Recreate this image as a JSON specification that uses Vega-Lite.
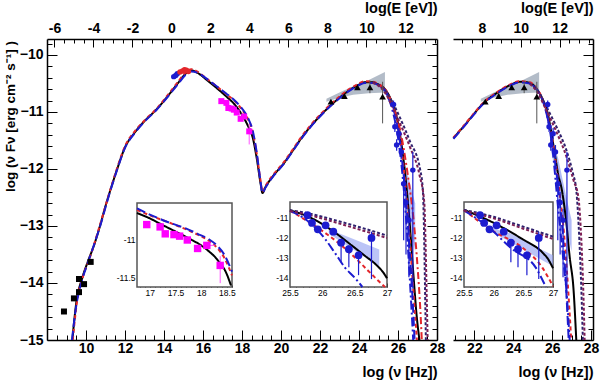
{
"$schema": "https://vega.github.io/schema/vega-lite/v6.json",
"width": 546, "height": 301,
"autosize": "none",
"padding": {"left": 47, "top": 39, "right": 7, "bottom": 40},
"background": "white",
"config": {"view": {"stroke": null}, "font": "Liberation Sans",
 "axis": {"grid": false, "domainColor": "#000", "domainWidth": 1.5, "tickColor": "#000", "tickWidth": 1, "labelColor": "#000", "labelFont": "Liberation Sans", "labelFontSize": 14, "labelFontWeight": "bold", "labelFlush": false, "labelOverlap": false, "labelBound": false, "titleColor": "#000", "titleFont": "Liberation Sans", "titleFontSize": 14.5, "titleFontWeight": "bold", "titlePadding": 0}},
"datasets": {
"curves": [
{"p":"L","s":"k","x":9.3,"y":-15},{"p":"L","s":"k","x":9.5,"y":-14.35},{"p":"L","s":"k","x":9.8,"y":-13.92},{"p":"L","s":"k","x":10.1,"y":-13.62},{"p":"L","s":"k","x":10.4,"y":-13.35},{"p":"L","s":"k","x":10.7,"y":-13.02},{"p":"L","s":"k","x":11,"y":-12.65},{"p":"L","s":"k","x":11.25,"y":-12.37},{"p":"L","s":"k","x":11.6,"y":-12},{"p":"L","s":"k","x":12,"y":-11.62},{"p":"L","s":"k","x":12.5,"y":-11.36},{"p":"L","s":"k","x":13,"y":-11.16},{"p":"L","s":"k","x":13.6,"y":-10.96},{"p":"L","s":"k","x":14.2,"y":-10.72},{"p":"L","s":"k","x":14.7,"y":-10.5},{"p":"L","s":"k","x":15.1,"y":-10.33},{"p":"L","s":"k","x":15.4,"y":-10.27},{"p":"L","s":"k","x":15.7,"y":-10.31},{"p":"L","s":"k","x":16.2,"y":-10.44},{"p":"L","s":"k","x":16.7,"y":-10.58},{"p":"L","s":"k","x":17.2,"y":-10.73},{"p":"L","s":"k","x":17.6,"y":-10.86},{"p":"L","s":"k","x":18,"y":-11.05},{"p":"L","s":"k","x":18.3,"y":-11.24},{"p":"L","s":"k","x":18.55,"y":-11.45},{"p":"L","s":"k","x":18.75,"y":-11.8},{"p":"L","s":"k","x":18.95,"y":-12.25},{"p":"L","s":"k","x":19.05,"y":-12.42},{"p":"L","s":"k","x":19.2,"y":-12.32},{"p":"L","s":"k","x":19.6,"y":-12.12},{"p":"L","s":"k","x":20.1,"y":-11.92},{"p":"L","s":"k","x":20.6,"y":-11.68},{"p":"L","s":"k","x":21,"y":-11.48},{"p":"L","s":"k","x":21.5,"y":-11.26},{"p":"L","s":"k","x":22,"y":-11.07},{"p":"L","s":"k","x":22.5,"y":-10.9},{"p":"L","s":"k","x":23,"y":-10.75},{"p":"L","s":"k","x":23.5,"y":-10.62},{"p":"L","s":"k","x":24,"y":-10.52},{"p":"L","s":"k","x":24.3,"y":-10.48},{"p":"L","s":"k","x":24.7,"y":-10.48},{"p":"L","s":"k","x":25,"y":-10.52},{"p":"L","s":"k","x":25.4,"y":-10.63},{"p":"L","s":"k","x":25.7,"y":-10.84},{"p":"L","s":"k","x":26,"y":-11.2},{"p":"L","s":"k","x":26.2,"y":-11.62},{"p":"L","s":"k","x":26.4,"y":-12.2},{"p":"L","s":"k","x":26.6,"y":-12.95},{"p":"L","s":"k","x":26.8,"y":-13.9},{"p":"L","s":"k","x":26.95,"y":-14.55},{"p":"L","s":"k","x":27.1,"y":-15},
{"p":"L","s":"r","x":9.32,"y":-15},{"p":"L","s":"r","x":9.55,"y":-14.3},{"p":"L","s":"r","x":9.85,"y":-13.88},{"p":"L","s":"r","x":10.2,"y":-13.55},{"p":"L","s":"r","x":10.7,"y":-13},{"p":"L","s":"r","x":11.25,"y":-12.36},{"p":"L","s":"r","x":11.6,"y":-11.98},{"p":"L","s":"r","x":12,"y":-11.6},{"p":"L","s":"r","x":12.5,"y":-11.34},{"p":"L","s":"r","x":13,"y":-11.15},{"p":"L","s":"r","x":13.6,"y":-10.95},{"p":"L","s":"r","x":14.2,"y":-10.7},{"p":"L","s":"r","x":14.7,"y":-10.48},{"p":"L","s":"r","x":15.1,"y":-10.31},{"p":"L","s":"r","x":15.4,"y":-10.25},{"p":"L","s":"r","x":15.7,"y":-10.29},{"p":"L","s":"r","x":16.2,"y":-10.42},{"p":"L","s":"r","x":16.7,"y":-10.55},{"p":"L","s":"r","x":17.2,"y":-10.69},{"p":"L","s":"r","x":17.6,"y":-10.8},{"p":"L","s":"r","x":18,"y":-10.96},{"p":"L","s":"r","x":18.3,"y":-11.12},{"p":"L","s":"r","x":18.55,"y":-11.35},{"p":"L","s":"r","x":18.75,"y":-11.72},{"p":"L","s":"r","x":18.95,"y":-12.2},{"p":"L","s":"r","x":19.05,"y":-12.4},{"p":"L","s":"r","x":19.2,"y":-12.3},{"p":"L","s":"r","x":19.6,"y":-12.1},{"p":"L","s":"r","x":20.1,"y":-11.9},{"p":"L","s":"r","x":20.6,"y":-11.66},{"p":"L","s":"r","x":21,"y":-11.46},{"p":"L","s":"r","x":21.5,"y":-11.24},{"p":"L","s":"r","x":22,"y":-11.05},{"p":"L","s":"r","x":22.5,"y":-10.88},{"p":"L","s":"r","x":23,"y":-10.73},{"p":"L","s":"r","x":23.5,"y":-10.6},{"p":"L","s":"r","x":24,"y":-10.5},{"p":"L","s":"r","x":24.3,"y":-10.46},{"p":"L","s":"r","x":24.7,"y":-10.47},{"p":"L","s":"r","x":25,"y":-10.51},{"p":"L","s":"r","x":25.4,"y":-10.63},{"p":"L","s":"r","x":25.7,"y":-10.86},{"p":"L","s":"r","x":26,"y":-11.25},{"p":"L","s":"r","x":26.2,"y":-11.7},{"p":"L","s":"r","x":26.4,"y":-12.35},{"p":"L","s":"r","x":26.6,"y":-13.2},{"p":"L","s":"r","x":26.8,"y":-14.2},{"p":"L","s":"r","x":26.97,"y":-15},
{"p":"L","s":"b","x":9.28,"y":-15},{"p":"L","s":"b","x":9.5,"y":-14.4},{"p":"L","s":"b","x":9.8,"y":-13.95},{"p":"L","s":"b","x":10.1,"y":-13.64},{"p":"L","s":"b","x":10.7,"y":-13.03},{"p":"L","s":"b","x":11.25,"y":-12.38},{"p":"L","s":"b","x":11.6,"y":-12.01},{"p":"L","s":"b","x":12,"y":-11.63},{"p":"L","s":"b","x":12.5,"y":-11.37},{"p":"L","s":"b","x":13,"y":-11.17},{"p":"L","s":"b","x":13.6,"y":-10.97},{"p":"L","s":"b","x":14.2,"y":-10.73},{"p":"L","s":"b","x":14.7,"y":-10.52},{"p":"L","s":"b","x":15.1,"y":-10.35},{"p":"L","s":"b","x":15.4,"y":-10.29},{"p":"L","s":"b","x":15.7,"y":-10.31},{"p":"L","s":"b","x":16.2,"y":-10.42},{"p":"L","s":"b","x":16.7,"y":-10.55},{"p":"L","s":"b","x":17.2,"y":-10.68},{"p":"L","s":"b","x":17.6,"y":-10.79},{"p":"L","s":"b","x":18,"y":-10.94},{"p":"L","s":"b","x":18.3,"y":-11.1},{"p":"L","s":"b","x":18.55,"y":-11.33},{"p":"L","s":"b","x":18.75,"y":-11.7},{"p":"L","s":"b","x":18.95,"y":-12.22},{"p":"L","s":"b","x":19.05,"y":-12.42},{"p":"L","s":"b","x":19.2,"y":-12.33},{"p":"L","s":"b","x":19.6,"y":-12.13},{"p":"L","s":"b","x":20.1,"y":-11.93},{"p":"L","s":"b","x":20.6,"y":-11.69},{"p":"L","s":"b","x":21,"y":-11.49},{"p":"L","s":"b","x":21.5,"y":-11.27},{"p":"L","s":"b","x":22,"y":-11.08},{"p":"L","s":"b","x":22.5,"y":-10.91},{"p":"L","s":"b","x":23,"y":-10.76},{"p":"L","s":"b","x":23.5,"y":-10.63},{"p":"L","s":"b","x":24,"y":-10.53},{"p":"L","s":"b","x":24.3,"y":-10.49},{"p":"L","s":"b","x":24.7,"y":-10.49},{"p":"L","s":"b","x":25,"y":-10.53},{"p":"L","s":"b","x":25.4,"y":-10.65},{"p":"L","s":"b","x":25.7,"y":-10.88},{"p":"L","s":"b","x":26,"y":-11.3},{"p":"L","s":"b","x":26.2,"y":-11.8},{"p":"L","s":"b","x":26.4,"y":-12.5},{"p":"L","s":"b","x":26.6,"y":-13.45},{"p":"L","s":"b","x":26.75,"y":-14.3},{"p":"L","s":"b","x":26.85,"y":-15},
{"p":"L","s":"bd","x":25,"y":-10.53},{"p":"L","s":"bd","x":25.3,"y":-10.62},{"p":"L","s":"bd","x":25.7,"y":-10.95},{"p":"L","s":"bd","x":26,"y":-11.45},{"p":"L","s":"bd","x":26.2,"y":-12},{"p":"L","s":"bd","x":26.4,"y":-12.8},{"p":"L","s":"bd","x":26.55,"y":-13.6},{"p":"L","s":"bd","x":26.7,"y":-14.5},{"p":"L","s":"bd","x":26.78,"y":-15},
{"p":"L","s":"rd","x":25,"y":-10.52},{"p":"L","s":"rd","x":25.3,"y":-10.6},{"p":"L","s":"rd","x":25.7,"y":-10.85},{"p":"L","s":"rd","x":26.1,"y":-11.3},{"p":"L","s":"rd","x":26.5,"y":-12.1},{"p":"L","s":"rd","x":26.8,"y":-12.9},{"p":"L","s":"rd","x":27,"y":-13.7},{"p":"L","s":"rd","x":27.15,"y":-14.5},{"p":"L","s":"rd","x":27.22,"y":-15},
{"p":"L","s":"p1","x":24.7,"y":-10.48},{"p":"L","s":"p1","x":25,"y":-10.52},{"p":"L","s":"p1","x":25.33,"y":-10.62},{"p":"L","s":"p1","x":25.7,"y":-10.82},{"p":"L","s":"p1","x":26.1,"y":-11.1},{"p":"L","s":"p1","x":26.62,"y":-11.52},{"p":"L","s":"p1","x":27.13,"y":-12},{"p":"L","s":"p1","x":27.28,"y":-12.4},{"p":"L","s":"p1","x":27.33,"y":-13},{"p":"L","s":"p1","x":27.38,"y":-13.95},{"p":"L","s":"p1","x":27.43,"y":-15},
{"p":"L","s":"p2","x":24.7,"y":-10.49},{"p":"L","s":"p2","x":25,"y":-10.54},{"p":"L","s":"p2","x":25.33,"y":-10.66},{"p":"L","s":"p2","x":25.7,"y":-10.9},{"p":"L","s":"p2","x":26.1,"y":-11.2},{"p":"L","s":"p2","x":26.62,"y":-11.62},{"p":"L","s":"p2","x":27.1,"y":-12.1},{"p":"L","s":"p2","x":27.35,"y":-12.6},{"p":"L","s":"p2","x":27.42,"y":-13.4},{"p":"L","s":"p2","x":27.47,"y":-14.2},{"p":"L","s":"p2","x":27.52,"y":-15},
{"p":"R","s":"k","x":20.92,"y":-11.46},{"p":"R","s":"k","x":21.43,"y":-11.26},{"p":"R","s":"k","x":21.94,"y":-11.05},{"p":"R","s":"k","x":22.45,"y":-10.85},{"p":"R","s":"k","x":23.14,"y":-10.67},{"p":"R","s":"k","x":23.82,"y":-10.53},{"p":"R","s":"k","x":24.34,"y":-10.47},{"p":"R","s":"k","x":24.85,"y":-10.49},{"p":"R","s":"k","x":25.19,"y":-10.59},{"p":"R","s":"k","x":25.53,"y":-10.79},{"p":"R","s":"k","x":25.79,"y":-11.05},{"p":"R","s":"k","x":25.96,"y":-11.37},{"p":"R","s":"k","x":26.13,"y":-11.72},{"p":"R","s":"k","x":26.3,"y":-12.08},{"p":"R","s":"k","x":26.5,"y":-12.37},{"p":"R","s":"k","x":26.73,"y":-12.95},{"p":"R","s":"k","x":26.9,"y":-13.54},{"p":"R","s":"k","x":27.1,"y":-14.12},{"p":"R","s":"k","x":27.24,"y":-15},
{"p":"R","s":"r","x":20.92,"y":-11.45},{"p":"R","s":"r","x":21.43,"y":-11.25},{"p":"R","s":"r","x":21.94,"y":-11.04},{"p":"R","s":"r","x":22.45,"y":-10.84},{"p":"R","s":"r","x":23.14,"y":-10.66},{"p":"R","s":"r","x":23.82,"y":-10.52},{"p":"R","s":"r","x":24.34,"y":-10.46},{"p":"R","s":"r","x":24.85,"y":-10.48},{"p":"R","s":"r","x":25.19,"y":-10.58},{"p":"R","s":"r","x":25.53,"y":-10.8},{"p":"R","s":"r","x":25.96,"y":-11.4},{"p":"R","s":"r","x":26.3,"y":-12.2},{"p":"R","s":"r","x":26.6,"y":-13.1},{"p":"R","s":"r","x":26.8,"y":-14},{"p":"R","s":"r","x":26.98,"y":-15},
{"p":"R","s":"b","x":20.92,"y":-11.47},{"p":"R","s":"b","x":21.43,"y":-11.27},{"p":"R","s":"b","x":21.94,"y":-11.06},{"p":"R","s":"b","x":22.45,"y":-10.86},{"p":"R","s":"b","x":23.14,"y":-10.68},{"p":"R","s":"b","x":23.82,"y":-10.54},{"p":"R","s":"b","x":24.34,"y":-10.48},{"p":"R","s":"b","x":24.85,"y":-10.5},{"p":"R","s":"b","x":25.19,"y":-10.6},{"p":"R","s":"b","x":25.53,"y":-10.82},{"p":"R","s":"b","x":25.96,"y":-11.45},{"p":"R","s":"b","x":26.3,"y":-12.3},{"p":"R","s":"b","x":26.6,"y":-13.4},{"p":"R","s":"b","x":26.85,"y":-15},
{"p":"R","s":"bd","x":25,"y":-10.53},{"p":"R","s":"bd","x":25.3,"y":-10.65},{"p":"R","s":"bd","x":25.7,"y":-11},{"p":"R","s":"bd","x":26,"y":-11.6},{"p":"R","s":"bd","x":26.3,"y":-12.66},{"p":"R","s":"bd","x":26.56,"y":-13.54},{"p":"R","s":"bd","x":26.73,"y":-14.12},{"p":"R","s":"bd","x":26.9,"y":-15},
{"p":"R","s":"p1","x":24.85,"y":-10.5},{"p":"R","s":"p1","x":25.19,"y":-10.6},{"p":"R","s":"p1","x":25.7,"y":-10.91},{"p":"R","s":"p1","x":26.22,"y":-11.26},{"p":"R","s":"p1","x":26.73,"y":-11.67},{"p":"R","s":"p1","x":27.07,"y":-12.08},{"p":"R","s":"p1","x":27.24,"y":-12.37},{"p":"R","s":"p1","x":27.4,"y":-13.25},{"p":"R","s":"p1","x":27.5,"y":-14.1},{"p":"R","s":"p1","x":27.58,"y":-15},
{"p":"R","s":"p2","x":24.85,"y":-10.51},{"p":"R","s":"p2","x":25.19,"y":-10.63},{"p":"R","s":"p2","x":25.7,"y":-10.97},{"p":"R","s":"p2","x":26.22,"y":-11.35},{"p":"R","s":"p2","x":26.73,"y":-11.78},{"p":"R","s":"p2","x":27.1,"y":-12.2},{"p":"R","s":"p2","x":27.35,"y":-12.5},{"p":"R","s":"p2","x":27.5,"y":-13.25},{"p":"R","s":"p2","x":27.6,"y":-14.12},{"p":"R","s":"p2","x":27.67,"y":-15},
{"p":"I1","s":"k","x":16.75,"y":-10.66},{"p":"I1","s":"k","x":17,"y":-10.73},{"p":"I1","s":"k","x":17.26,"y":-10.82},{"p":"I1","s":"k","x":17.5,"y":-10.9},{"p":"I1","s":"k","x":17.79,"y":-11},{"p":"I1","s":"k","x":18,"y":-11.08},{"p":"I1","s":"k","x":18.12,"y":-11.14},{"p":"I1","s":"k","x":18.32,"y":-11.27},{"p":"I1","s":"k","x":18.49,"y":-11.44},{"p":"I1","s":"k","x":18.58,"y":-11.6},
{"p":"I1","s":"r","x":16.75,"y":-10.62},{"p":"I1","s":"r","x":17,"y":-10.69},{"p":"I1","s":"r","x":17.4,"y":-10.79},{"p":"I1","s":"r","x":17.7,"y":-10.87},{"p":"I1","s":"r","x":17.93,"y":-10.94},{"p":"I1","s":"r","x":18.15,"y":-11.02},{"p":"I1","s":"r","x":18.32,"y":-11.12},{"p":"I1","s":"r","x":18.45,"y":-11.24},{"p":"I1","s":"r","x":18.6,"y":-11.47},
{"p":"I1","s":"b","x":16.75,"y":-10.6},{"p":"I1","s":"b","x":17,"y":-10.68},{"p":"I1","s":"b","x":17.4,"y":-10.79},{"p":"I1","s":"b","x":17.7,"y":-10.86},{"p":"I1","s":"b","x":17.93,"y":-10.93},{"p":"I1","s":"b","x":18.15,"y":-11},{"p":"I1","s":"b","x":18.32,"y":-11.09},{"p":"I1","s":"b","x":18.45,"y":-11.2},{"p":"I1","s":"b","x":18.6,"y":-11.42},
{"p":"I2","s":"k","x":25.5,"y":-10.62},{"p":"I2","s":"k","x":25.79,"y":-10.95},{"p":"I2","s":"k","x":26.15,"y":-11.64},{"p":"I2","s":"k","x":26.46,"y":-12.41},{"p":"I2","s":"k","x":26.65,"y":-12.9},{"p":"I2","s":"k","x":26.84,"y":-13.4},{"p":"I2","s":"k","x":26.95,"y":-13.8},{"p":"I2","s":"k","x":27,"y":-14.06},
{"p":"I2","s":"r","x":25.5,"y":-10.64},{"p":"I2","s":"r","x":25.95,"y":-11.55},{"p":"I2","s":"r","x":26.3,"y":-12.41},{"p":"I2","s":"r","x":26.5,"y":-13},{"p":"I2","s":"r","x":26.7,"y":-13.65},{"p":"I2","s":"r","x":26.87,"y":-14.2},{"p":"I2","s":"r","x":26.97,"y":-14.5},
{"p":"I2","s":"bd","x":25.5,"y":-10.65},{"p":"I2","s":"bd","x":25.75,"y":-11.1},{"p":"I2","s":"bd","x":26.04,"y":-12.06},{"p":"I2","s":"bd","x":26.2,"y":-12.8},{"p":"I2","s":"bd","x":26.35,"y":-13.52},{"p":"I2","s":"bd","x":26.5,"y":-14.03},{"p":"I2","s":"bd","x":26.62,"y":-14.5},
{"p":"I2","s":"p1","x":25.5,"y":-10.62},{"p":"I2","s":"p1","x":25.75,"y":-10.75},{"p":"I2","s":"p1","x":26,"y":-10.95},{"p":"I2","s":"p1","x":26.5,"y":-11.4},{"p":"I2","s":"p1","x":27,"y":-11.9},
{"p":"I2","s":"p2","x":25.5,"y":-10.66},{"p":"I2","s":"p2","x":25.75,"y":-10.82},{"p":"I2","s":"p2","x":26,"y":-11.04},{"p":"I2","s":"p2","x":26.5,"y":-11.52},{"p":"I2","s":"p2","x":27,"y":-12.02},
{"p":"I3","s":"k","x":25.5,"y":-10.6},{"p":"I3","s":"k","x":26.03,"y":-11.3},{"p":"I3","s":"k","x":26.48,"y":-12.07},{"p":"I3","s":"k","x":26.82,"y":-12.75},{"p":"I3","s":"k","x":26.92,"y":-13.1},{"p":"I3","s":"k","x":27,"y":-13.55},
{"p":"I3","s":"r","x":25.5,"y":-10.6},{"p":"I3","s":"r","x":25.97,"y":-11.64},{"p":"I3","s":"r","x":26.48,"y":-12.5},{"p":"I3","s":"r","x":26.82,"y":-13.52},{"p":"I3","s":"r","x":27,"y":-14.46},
{"p":"I3","s":"bd","x":25.5,"y":-10.62},{"p":"I3","s":"bd","x":25.91,"y":-11.47},{"p":"I3","s":"bd","x":26.3,"y":-12.55},{"p":"I3","s":"bd","x":26.71,"y":-13.52},{"p":"I3","s":"bd","x":26.88,"y":-14.5},
{"p":"I3","s":"p1","x":25.5,"y":-10.6},{"p":"I3","s":"p1","x":26,"y":-10.95},{"p":"I3","s":"p1","x":26.5,"y":-11.45},{"p":"I3","s":"p1","x":27,"y":-11.95},
{"p":"I3","s":"p2","x":25.5,"y":-10.64},{"p":"I3","s":"p2","x":26,"y":-11.03},{"p":"I3","s":"p2","x":26.5,"y":-11.55},{"p":"I3","s":"p2","x":27,"y":-12.07}
],
"band": [
{"p":"A","x":26.1,"lo":-11.8,"hi":-11.58},{"p":"A","x":26.5,"lo":-12.65,"hi":-12.1},{"p":"A","x":26.88,"lo":-13.45,"hi":-12.6},
{"p":"B","x":25.9,"lo":-11.62,"hi":-11.45},{"p":"B","x":26.3,"lo":-12.25,"hi":-11.8},{"p":"B","x":26.7,"lo":-12.95,"hi":-12.45},{"p":"B","x":27,"lo":-13.45,"hi":-12.9}
],
"bowtie": [
{"x":22.33,"lo":-10.82,"hi":-10.77},{"x":23,"lo":-10.75,"hi":-10.66},{"x":23.7,"lo":-10.7,"hi":-10.55},{"x":24.5,"lo":-10.67,"hi":-10.44},{"x":25.33,"lo":-10.66,"hi":-10.3}
],
"lat": [
{"x":22.56,"y":-10.82,"lo":-10.85,"hi":-10.79},{"x":23.25,"y":-10.72,"lo":-10.76,"hi":-10.68},{"x":23.92,"y":-10.57,"lo":-10.61,"hi":-10.53},{"x":24.56,"y":-10.57,"lo":-10.67,"hi":-10.45},{"x":25.21,"y":-10.73,"lo":-11.2,"hi":-10.47}
],
"blue": [
{"x":25.77,"y":-10.87,"lo":-10.95,"hi":-10.8},{"x":25.84,"y":-11.26,"lo":-11.35,"hi":-11.18},{"x":25.93,"y":-11.58,"lo":-11.68,"hi":-11.48},{"x":26.05,"y":-11.38,"lo":-11.48,"hi":-11.28},{"x":26.17,"y":-11.7,"lo":-11.82,"hi":-11.58},{"x":26.29,"y":-12.26,"lo":-13.25,"hi":-12.1},{"x":26.41,"y":-12.59,"lo":-13.5,"hi":-12.4},{"x":26.56,"y":-12.9,"lo":-13.9,"hi":-12.7},{"x":26.76,"y":-12.02,"lo":-14.1,"hi":-11.7}
],
"xray": [
{"x":16.94,"y":-10.81},{"x":17.2,"y":-10.84},{"x":17.3,"y":-10.93},{"x":17.47,"y":-10.94},{"x":17.58,"y":-10.96},{"x":17.73,"y":-11.01},{"x":17.93,"y":-11.12},{"x":18.11,"y":-11.08},{"x":18.37,"y":-11.34}
],
"xbars": [
{"x1":18.37,"x2":18.37,"y1":-11.57,"y2":-11.22},{"x1":18.03,"x2":18.26,"y1":-11.08,"y2":-11.08}
],
"radio": [
{"x":8.87,"y":-14.5},{"x":9.38,"y":-14.27},{"x":9.64,"y":-14.16},{"x":9.64,"y":-13.93},{"x":9.9,"y":-14.02},{"x":10.24,"y":-13.63}
],
"opt": [
{"s":"b","x":14.5,"y":-10.38},{"s":"b","x":14.6,"y":-10.36},{"s":"b","x":14.68,"y":-10.33},{"s":"r","x":14.82,"y":-10.3},{"s":"r","x":14.95,"y":-10.28},{"s":"r","x":15.05,"y":-10.26},{"s":"r","x":15.15,"y":-10.27},{"s":"r","x":15.25,"y":-10.29}
],
"frames": [
{"p":"I1","x1":16.75,"x2":18.6,"y1":-11.62,"y2":-10.53},{"p":"I2","x1":25.5,"x2":27,"y1":-14.5,"y2":-10.2},{"p":"I3","x1":25.5,"x2":27,"y1":-14.5,"y2":-10.2}
]
},
"resolve": {"scale": {"x": "independent", "y": "independent"}, "axis": {"x": "independent", "y": "independent"}},
"layer": [
{"data": {"name": "bowtie"}, "mark": {"type": "area", "color": "#b3bcc8"},
 "encoding": {
  "x": {"field": "x", "type": "quantitative", "scale": {"domain": [8, 28], "range": [0, 390], "nice": false, "zero": false},
   "axis": {"orient": "top", "values": [8.3835, 10.3835, 12.3835, 14.3835, 16.3835, 18.3835, 20.3835, 22.3835, 24.3835, 26.3835], "labelExpr": "round(datum.value - 14.3835)", "tickSize": -8, "labelPadding": 12, "title": "log(E [eV])", "titleX": 390, "titleY": -31, "titleAlign": "right", "titleBaseline": "middle", "titleAngle": 0}},
  "y": {"field": "hi", "type": "quantitative", "scale": {"domain": [-15, -9.72], "range": [301, 0], "nice": false, "zero": false},
   "axis": {"orient": "right", "offset": -156, "values": [-15, -14, -13, -12, -11, -10], "tickSize": -10, "labels": false, "title": null}},
  "y2": {"field": "lo"}}},
{"data": {"name": "band"}, "transform": [{"filter": "datum.p == 'A'"}], "mark": {"type": "area", "color": "#8e9cf2", "opacity": 0.7},
 "encoding": {
  "x": {"field": "x", "type": "quantitative", "scale": {"domain": [8, 28], "range": [0, 390], "nice": false, "zero": false},
   "axis": {"orient": "bottom", "values": [8.5, 9, 9.5, 10, 10.5, 11, 11.5, 12, 12.5, 13, 13.5, 14, 14.5, 15, 15.5, 16, 16.5, 17, 17.5, 18, 18.5, 19, 19.5, 20, 20.5, 21, 21.5, 22, 22.5, 23, 23.5, 24, 24.5, 25, 25.5, 26, 26.5, 27, 27.5], "tickSize": -5, "labels": false, "domain": false, "title": null}},
  "y": {"field": "hi", "type": "quantitative", "scale": {"domain": [-15, -9.72], "range": [301, 0], "nice": false, "zero": false},
   "axis": {"orient": "left", "values": [-14.8, -14.6, -14.4, -14.2, -13.8, -13.6, -13.4, -13.2, -12.8, -12.6, -12.4, -12.2, -11.8, -11.6, -11.4, -11.2, -10.8, -10.6, -10.4, -10.2, -9.8], "tickSize": -5, "labels": false, "domain": false, "title": null}},
  "y2": {"field": "lo"}}},
{"data": {"name": "curves"}, "transform": [{"filter": "datum.p == 'L'"}], "mark": {"type": "line", "strokeWidth": 2, "interpolate": "monotone"},
 "encoding": {
  "x": {"field": "x", "type": "quantitative", "scale": {"domain": [8, 28], "range": [0, 390], "nice": false, "zero": false},
   "axis": {"orient": "bottom", "values": [10, 12, 14, 16, 18, 20, 22, 24, 26, 28], "tickSize": -10, "labelPadding": 11.5, "title": "log (ν [Hz])", "titleX": 390, "titleY": 32, "titleAlign": "right", "titleBaseline": "middle"}},
  "y": {"field": "y", "type": "quantitative", "scale": {"domain": [-15, -9.72], "range": [301, 0], "nice": false, "zero": false},
   "axis": {"orient": "left", "values": [-15, -14, -13, -12, -11, -10], "tickSize": -10, "labelPadding": 14, "title": "log (ν Fν [erg cm⁻² s⁻¹] )", "titleX": -37, "titleY": 77, "titleAngle": -90, "titleAlign": "center", "titleBaseline": "middle", "titleFontSize": 13.5}},
  "color": {"field": "s", "type": "nominal", "legend": null, "scale": {"domain": ["k", "r", "b", "bd", "rd", "p1", "p2"], "range": ["#000000", "#e3262b", "#1c1ccf", "#1c1ccf", "#e3262b", "#2f216e", "#7c1f55"]}},
  "strokeDash": {"field": "s", "type": "nominal", "legend": null, "scale": {"domain": ["k", "r", "b", "bd", "rd", "p1", "p2"], "range": [[1, 0], [4, 3], [9, 4], [9, 3, 2, 3], [7, 3, 2, 3], [3, 2], [3, 2]]}}}},
{"data": {"name": "lat"}, "mark": {"type": "rule", "color": "#555555", "strokeWidth": 1},
 "encoding": {
  "x": {"field": "x", "type": "quantitative", "scale": {"domain": [8, 28], "range": [0, 390], "nice": false, "zero": false},
   "axis": {"orient": "top", "values": [8.3835, 8.8835, 9.3835, 9.8835, 10.8835, 11.3835, 11.8835, 12.8835, 13.3835, 13.8835, 14.8835, 15.3835, 15.8835, 16.8835, 17.3835, 17.8835, 18.8835, 19.3835, 19.8835, 20.8835, 21.3835, 21.8835, 22.8835, 23.3835, 23.8835, 24.8835, 25.3835, 25.8835, 26.8835, 27.3835, 27.8835], "tickSize": -4, "labels": false, "domain": false, "title": null}},
  "y": {"field": "lo", "type": "quantitative", "scale": {"domain": [-15, -9.72], "range": [301, 0], "nice": false, "zero": false},
   "axis": {"orient": "right", "offset": -156, "values": [-14.8, -14.6, -14.4, -14.2, -13.8, -13.6, -13.4, -13.2, -12.8, -12.6, -12.4, -12.2, -11.8, -11.6, -11.4, -11.2, -10.8, -10.6, -10.4, -10.2, -9.8], "tickSize": -5, "labels": false, "domain": false, "title": null}},
  "y2": {"field": "hi"}}},
{"data": {"name": "lat"}, "mark": {"type": "point", "shape": "triangle-up", "filled": true, "color": "#000000", "size": 45, "opacity": 1},
 "encoding": {
  "x": {"field": "x", "type": "quantitative", "scale": {"domain": [8, 28], "range": [0, 390], "nice": false, "zero": false}, "axis": null},
  "y": {"field": "y", "type": "quantitative", "scale": {"domain": [-15, -9.72], "range": [301, 0], "nice": false, "zero": false}, "axis": null}}},
{"data": {"name": "blue"}, "mark": {"type": "rule", "color": "#1c1ccf", "strokeWidth": 1.2},
 "encoding": {
  "x": {"field": "x", "type": "quantitative", "scale": {"domain": [8, 28], "range": [0, 390], "nice": false, "zero": false}, "axis": null},
  "y": {"field": "lo", "type": "quantitative", "scale": {"domain": [-15, -9.72], "range": [301, 0], "nice": false, "zero": false}, "axis": null},
  "y2": {"field": "hi"}}},
{"data": {"name": "blue"}, "mark": {"type": "point", "shape": "circle", "filled": true, "color": "#1c1ccf", "size": 30, "opacity": 1},
 "encoding": {
  "x": {"field": "x", "type": "quantitative", "scale": {"domain": [8, 28], "range": [0, 390], "nice": false, "zero": false}, "axis": null},
  "y": {"field": "y", "type": "quantitative", "scale": {"domain": [-15, -9.72], "range": [301, 0], "nice": false, "zero": false}, "axis": null}}},
{"data": {"name": "xbars"}, "mark": {"type": "rule", "color": "#ff55ff", "strokeWidth": 1},
 "encoding": {
  "x": {"field": "x1", "type": "quantitative", "scale": {"domain": [8, 28], "range": [0, 390], "nice": false, "zero": false}, "axis": null},
  "x2": {"field": "x2"},
  "y": {"field": "y1", "type": "quantitative", "scale": {"domain": [-15, -9.72], "range": [301, 0], "nice": false, "zero": false}, "axis": null},
  "y2": {"field": "y2"}}},
{"data": {"name": "xray"}, "mark": {"type": "point", "shape": "square", "filled": true, "color": "#ff00ff", "size": 36, "opacity": 1},
 "encoding": {
  "x": {"field": "x", "type": "quantitative", "scale": {"domain": [8, 28], "range": [0, 390], "nice": false, "zero": false}, "axis": null},
  "y": {"field": "y", "type": "quantitative", "scale": {"domain": [-15, -9.72], "range": [301, 0], "nice": false, "zero": false}, "axis": null}}},
{"data": {"name": "radio"}, "mark": {"type": "point", "shape": "square", "filled": true, "color": "#000000", "size": 36, "opacity": 1},
 "encoding": {
  "x": {"field": "x", "type": "quantitative", "scale": {"domain": [8, 28], "range": [0, 390], "nice": false, "zero": false}, "axis": null},
  "y": {"field": "y", "type": "quantitative", "scale": {"domain": [-15, -9.72], "range": [301, 0], "nice": false, "zero": false}, "axis": null}}},
{"data": {"name": "opt"}, "mark": {"type": "point", "shape": "circle", "filled": true, "size": 30, "opacity": 1},
 "encoding": {
  "x": {"field": "x", "type": "quantitative", "scale": {"domain": [8, 28], "range": [0, 390], "nice": false, "zero": false}, "axis": null},
  "y": {"field": "y", "type": "quantitative", "scale": {"domain": [-15, -9.72], "range": [301, 0], "nice": false, "zero": false}, "axis": null},
  "color": {"field": "s", "type": "nominal", "legend": null, "scale": {"domain": ["k", "r", "b", "bd", "rd", "p1", "p2"], "range": ["#000000", "#e3262b", "#1c1ccf", "#1c1ccf", "#e3262b", "#2f216e", "#7c1f55"]}}}},

{"data": {"name": "bowtie"}, "mark": {"type": "area", "color": "#b3bcc8"},
 "encoding": {
  "x": {"field": "x", "type": "quantitative", "scale": {"domain": [20.9, 28.1], "range": [406, 546], "nice": false, "zero": false},
   "axis": {"orient": "top", "values": [22.3835, 24.3835, 26.3835], "labelExpr": "round(datum.value - 14.3835)", "tickSize": -8, "labelPadding": 12, "title": "log(E [eV])", "titleX": 546, "titleY": -31, "titleAlign": "right", "titleBaseline": "middle", "titleAngle": 0}},
  "y": {"field": "hi", "type": "quantitative", "scale": {"domain": [-15, -9.72], "range": [301, 0], "nice": false, "zero": false},
   "axis": {"orient": "right", "values": [-15, -14, -13, -12, -11, -10], "tickSize": -10, "labels": false, "title": null}},
  "y2": {"field": "lo"}}},
{"data": {"name": "band"}, "transform": [{"filter": "datum.p == 'B'"}], "mark": {"type": "area", "color": "#8e9cf2", "opacity": 0.7},
 "encoding": {
  "x": {"field": "x", "type": "quantitative", "scale": {"domain": [20.9, 28.1], "range": [406, 546], "nice": false, "zero": false},
   "axis": {"orient": "bottom", "values": [21, 21.5, 22, 22.5, 23, 23.5, 24, 24.5, 25, 25.5, 26, 26.5, 27, 27.5, 28], "tickSize": -5, "labels": false, "domain": false, "title": null}},
  "y": {"field": "hi", "type": "quantitative", "scale": {"domain": [-15, -9.72], "range": [301, 0], "nice": false, "zero": false},
   "axis": {"orient": "right", "values": [-14.8, -14.6, -14.4, -14.2, -13.8, -13.6, -13.4, -13.2, -12.8, -12.6, -12.4, -12.2, -11.8, -11.6, -11.4, -11.2, -10.8, -10.6, -10.4, -10.2, -9.8], "tickSize": -5, "labels": false, "domain": false, "title": null}},
  "y2": {"field": "lo"}}},
{"data": {"name": "curves"}, "transform": [{"filter": "datum.p == 'R'"}], "mark": {"type": "line", "strokeWidth": 2, "interpolate": "monotone"},
 "encoding": {
  "x": {"field": "x", "type": "quantitative", "scale": {"domain": [20.9, 28.1], "range": [406, 546], "nice": false, "zero": false},
   "axis": {"orient": "bottom", "values": [22, 24, 26, 28], "tickSize": -10, "labelPadding": 11.5, "title": "log (ν [Hz])", "titleX": 546, "titleY": 32, "titleAlign": "right", "titleBaseline": "middle"}},
  "y": {"field": "y", "type": "quantitative", "scale": {"domain": [-15, -9.72], "range": [301, 0], "nice": false, "zero": false}, "axis": null},
  "color": {"field": "s", "type": "nominal", "legend": null, "scale": {"domain": ["k", "r", "b", "bd", "rd", "p1", "p2"], "range": ["#000000", "#e3262b", "#1c1ccf", "#1c1ccf", "#e3262b", "#2f216e", "#7c1f55"]}},
  "strokeDash": {"field": "s", "type": "nominal", "legend": null, "scale": {"domain": ["k", "r", "b", "bd", "rd", "p1", "p2"], "range": [[1, 0], [4, 3], [9, 4], [9, 3, 2, 3], [7, 3, 2, 3], [3, 2], [3, 2]]}}}},
{"data": {"name": "lat"}, "mark": {"type": "rule", "color": "#555555", "strokeWidth": 1},
 "encoding": {
  "x": {"field": "x", "type": "quantitative", "scale": {"domain": [20.9, 28.1], "range": [406, 546], "nice": false, "zero": false},
   "axis": {"orient": "top", "values": [21.3835, 21.8835, 22.8835, 23.3835, 23.8835, 24.8835, 25.3835, 25.8835, 26.8835, 27.3835, 27.8835], "tickSize": -4, "labels": false, "domain": false, "title": null}},
  "y": {"field": "lo", "type": "quantitative", "scale": {"domain": [-15, -9.72], "range": [301, 0], "nice": false, "zero": false}, "axis": null},
  "y2": {"field": "hi"}}},
{"data": {"name": "lat"}, "mark": {"type": "point", "shape": "triangle-up", "filled": true, "color": "#000000", "size": 45, "opacity": 1},
 "encoding": {
  "x": {"field": "x", "type": "quantitative", "scale": {"domain": [20.9, 28.1], "range": [406, 546], "nice": false, "zero": false}, "axis": null},
  "y": {"field": "y", "type": "quantitative", "scale": {"domain": [-15, -9.72], "range": [301, 0], "nice": false, "zero": false}, "axis": null}}},
{"data": {"name": "blue"}, "mark": {"type": "rule", "color": "#1c1ccf", "strokeWidth": 1.2},
 "encoding": {
  "x": {"field": "x", "type": "quantitative", "scale": {"domain": [20.9, 28.1], "range": [406, 546], "nice": false, "zero": false}, "axis": null},
  "y": {"field": "lo", "type": "quantitative", "scale": {"domain": [-15, -9.72], "range": [301, 0], "nice": false, "zero": false}, "axis": null},
  "y2": {"field": "hi"}}},
{"data": {"name": "blue"}, "mark": {"type": "point", "shape": "circle", "filled": true, "color": "#1c1ccf", "size": 30, "opacity": 1},
 "encoding": {
  "x": {"field": "x", "type": "quantitative", "scale": {"domain": [20.9, 28.1], "range": [406, 546], "nice": false, "zero": false}, "axis": null},
  "y": {"field": "y", "type": "quantitative", "scale": {"domain": [-15, -9.72], "range": [301, 0], "nice": false, "zero": false}, "axis": null}}},

{"data": {"name": "frames"}, "transform": [{"filter": "datum.p == 'I1'"}], "mark": {"type": "rect", "fill": "white", "stroke": "#555555", "strokeWidth": 1.5},
 "encoding": {
  "x": {"field": "x1", "type": "quantitative", "scale": {"domain": [16.75, 18.6], "range": [90, 185], "nice": false, "zero": false}, "axis": null},
  "x2": {"field": "x2"},
  "y": {"field": "y1", "type": "quantitative", "scale": {"domain": [-11.62, -10.53], "range": [248, 164], "nice": false, "zero": false}, "axis": null},
  "y2": {"field": "y2"}}},
{"data": {"name": "curves"}, "transform": [{"filter": "datum.p == 'I1'"}], "mark": {"type": "line", "strokeWidth": 2, "interpolate": "monotone"},
 "encoding": {
  "x": {"field": "x", "type": "quantitative", "scale": {"domain": [16.75, 18.6], "range": [90, 185], "nice": false, "zero": false},
   "axis": {"orient": "bottom", "offset": -53, "values": [17, 17.5, 18, 18.5], "labelExpr": "datum.value", "tickSize": -4, "labelPadding": 5.5, "labelFontSize": 8.5, "labelFontWeight": "normal", "domain": false, "title": null}},
  "y": {"field": "y", "type": "quantitative", "scale": {"domain": [-11.62, -10.53], "range": [248, 164], "nice": false, "zero": false},
   "axis": {"orient": "left", "offset": -90, "values": [-11.5, -11], "labelExpr": "datum.value", "tickSize": -4, "labelPadding": 6, "labelFontSize": 8.5, "labelFontWeight": "normal", "domain": false, "title": null}},
  "color": {"field": "s", "type": "nominal", "legend": null, "scale": {"domain": ["k", "r", "b", "bd", "rd", "p1", "p2"], "range": ["#000000", "#e3262b", "#1c1ccf", "#1c1ccf", "#e3262b", "#2f216e", "#7c1f55"]}},
  "strokeDash": {"field": "s", "type": "nominal", "legend": null, "scale": {"domain": ["k", "r", "b", "bd", "rd", "p1", "p2"], "range": [[1, 0], [4, 3], [9, 4], [9, 3, 2, 3], [7, 3, 2, 3], [3, 2], [3, 2]]}}}},
{"data": {"name": "xbars"}, "mark": {"type": "rule", "color": "#ff55ff", "strokeWidth": 1},
 "encoding": {
  "x": {"field": "x1", "type": "quantitative", "scale": {"domain": [16.75, 18.6], "range": [90, 185], "nice": false, "zero": false},
   "axis": {"orient": "bottom", "offset": -53, "values": [16.8, 16.9, 17.1, 17.2, 17.3, 17.4, 17.6, 17.7, 17.8, 17.9, 18.1, 18.2, 18.3, 18.4, 18.6], "tickSize": -2, "labels": false, "domain": false, "title": null}},
  "x2": {"field": "x2"},
  "y": {"field": "y1", "type": "quantitative", "scale": {"domain": [-11.62, -10.53], "range": [248, 164], "nice": false, "zero": false},
   "axis": {"orient": "left", "offset": -90, "values": [-11.6, -11.4, -11.3, -11.2, -11.1, -10.9, -10.8, -10.7, -10.6], "tickSize": -2, "labels": false, "domain": false, "title": null}},
  "y2": {"field": "y2"}}},
{"data": {"name": "xray"}, "mark": {"type": "point", "shape": "square", "filled": true, "color": "#ff00ff", "size": 55, "opacity": 1},
 "encoding": {
  "x": {"field": "x", "type": "quantitative", "scale": {"domain": [16.75, 18.6], "range": [90, 185], "nice": false, "zero": false}, "axis": null},
  "y": {"field": "y", "type": "quantitative", "scale": {"domain": [-11.62, -10.53], "range": [248, 164], "nice": false, "zero": false}, "axis": null}}},

{"data": {"name": "frames"}, "transform": [{"filter": "datum.p == 'I2'"}], "mark": {"type": "rect", "fill": "white", "stroke": "#555555", "strokeWidth": 1.5},
 "encoding": {
  "x": {"field": "x1", "type": "quantitative", "scale": {"domain": [25.5, 27], "range": [243, 340], "nice": false, "zero": false}, "axis": null},
  "x2": {"field": "x2"},
  "y": {"field": "y1", "type": "quantitative", "scale": {"domain": [-14.5, -10.2], "range": [248, 163], "nice": false, "zero": false}, "axis": null},
  "y2": {"field": "y2"}}},
{"data": {"name": "band"}, "transform": [{"filter": "datum.p == 'A'"}], "mark": {"type": "area", "color": "#8e9cf2", "opacity": 0.6},
 "encoding": {
  "x": {"field": "x", "type": "quantitative", "scale": {"domain": [25.5, 27], "range": [243, 340], "nice": false, "zero": false}, "axis": null},
  "y": {"field": "hi", "type": "quantitative", "scale": {"domain": [-14.5, -10.2], "range": [248, 163], "nice": false, "zero": false}, "axis": null},
  "y2": {"field": "lo"}}},
{"data": {"name": "curves"}, "transform": [{"filter": "datum.p == 'I2'"}], "mark": {"type": "line", "strokeWidth": 2, "interpolate": "monotone"},
 "encoding": {
  "x": {"field": "x", "type": "quantitative", "scale": {"domain": [25.5, 27], "range": [243, 340], "nice": false, "zero": false},
   "axis": {"orient": "bottom", "offset": -53, "values": [25.5, 26, 26.5, 27], "labelExpr": "datum.value", "tickSize": -4, "labelPadding": 5.5, "labelFontSize": 8.5, "labelFontWeight": "normal", "domain": false, "title": null}},
  "y": {"field": "y", "type": "quantitative", "scale": {"domain": [-14.5, -10.2], "range": [248, 163], "nice": false, "zero": false},
   "axis": {"orient": "left", "offset": -243, "values": [-14, -13, -12, -11], "labelExpr": "datum.value", "tickSize": -4, "labelPadding": 6, "labelFontSize": 8.5, "labelFontWeight": "normal", "domain": false, "title": null}},
  "color": {"field": "s", "type": "nominal", "legend": null, "scale": {"domain": ["k", "r", "b", "bd", "rd", "p1", "p2"], "range": ["#000000", "#e3262b", "#1c1ccf", "#1c1ccf", "#e3262b", "#2f216e", "#7c1f55"]}},
  "strokeDash": {"field": "s", "type": "nominal", "legend": null, "scale": {"domain": ["k", "r", "b", "bd", "rd", "p1", "p2"], "range": [[1, 0], [4, 3], [9, 4], [9, 3, 2, 3], [7, 3, 2, 3], [3, 2], [3, 2]]}}}},
{"data": {"name": "blue"}, "mark": {"type": "rule", "color": "#1c1ccf", "strokeWidth": 1.2},
 "encoding": {
  "x": {"field": "x", "type": "quantitative", "scale": {"domain": [25.5, 27], "range": [243, 340], "nice": false, "zero": false},
   "axis": {"orient": "bottom", "offset": -53, "values": [25.6, 25.7, 25.8, 25.9, 26.1, 26.2, 26.3, 26.4, 26.6, 26.7, 26.8, 26.9], "tickSize": -2, "labels": false, "domain": false, "title": null}},
  "y": {"field": "lo", "type": "quantitative", "scale": {"domain": [-14.5, -10.2], "range": [248, 163], "nice": false, "zero": false},
   "axis": {"orient": "left", "offset": -243, "values": [-14.4, -14.2, -13.8, -13.6, -13.4, -13.2, -12.8, -12.6, -12.4, -12.2, -11.8, -11.6, -11.4, -11.2, -10.8, -10.6, -10.4], "tickSize": -2, "labels": false, "domain": false, "title": null}},
  "y2": {"field": "hi"}}},
{"data": {"name": "blue"}, "mark": {"type": "point", "shape": "circle", "filled": true, "color": "#1c1ccf", "size": 60, "opacity": 1},
 "encoding": {
  "x": {"field": "x", "type": "quantitative", "scale": {"domain": [25.5, 27], "range": [243, 340], "nice": false, "zero": false}, "axis": null},
  "y": {"field": "y", "type": "quantitative", "scale": {"domain": [-14.5, -10.2], "range": [248, 163], "nice": false, "zero": false}, "axis": null}}},

{"data": {"name": "frames"}, "transform": [{"filter": "datum.p == 'I3'"}], "mark": {"type": "rect", "fill": "white", "stroke": "#555555", "strokeWidth": 1.5},
 "encoding": {
  "x": {"field": "x1", "type": "quantitative", "scale": {"domain": [25.5, 27], "range": [417, 506], "nice": false, "zero": false}, "axis": null},
  "x2": {"field": "x2"},
  "y": {"field": "y1", "type": "quantitative", "scale": {"domain": [-14.5, -10.2], "range": [248, 163], "nice": false, "zero": false}, "axis": null},
  "y2": {"field": "y2"}}},
{"data": {"name": "band"}, "transform": [{"filter": "datum.p == 'B'"}], "mark": {"type": "area", "color": "#8e9cf2", "opacity": 0.6},
 "encoding": {
  "x": {"field": "x", "type": "quantitative", "scale": {"domain": [25.5, 27], "range": [417, 506], "nice": false, "zero": false}, "axis": null},
  "y": {"field": "hi", "type": "quantitative", "scale": {"domain": [-14.5, -10.2], "range": [248, 163], "nice": false, "zero": false}, "axis": null},
  "y2": {"field": "lo"}}},
{"data": {"name": "curves"}, "transform": [{"filter": "datum.p == 'I3'"}], "mark": {"type": "line", "strokeWidth": 2, "interpolate": "monotone"},
 "encoding": {
  "x": {"field": "x", "type": "quantitative", "scale": {"domain": [25.5, 27], "range": [417, 506], "nice": false, "zero": false},
   "axis": {"orient": "bottom", "offset": -53, "values": [25.5, 26, 26.5, 27], "labelExpr": "datum.value", "tickSize": -4, "labelPadding": 5.5, "labelFontSize": 8.5, "labelFontWeight": "normal", "domain": false, "title": null}},
  "y": {"field": "y", "type": "quantitative", "scale": {"domain": [-14.5, -10.2], "range": [248, 163], "nice": false, "zero": false},
   "axis": {"orient": "left", "offset": -417, "values": [-14, -13, -12, -11], "labelExpr": "datum.value", "tickSize": -4, "labelPadding": 6, "labelFontSize": 8.5, "labelFontWeight": "normal", "domain": false, "title": null}},
  "color": {"field": "s", "type": "nominal", "legend": null, "scale": {"domain": ["k", "r", "b", "bd", "rd", "p1", "p2"], "range": ["#000000", "#e3262b", "#1c1ccf", "#1c1ccf", "#e3262b", "#2f216e", "#7c1f55"]}},
  "strokeDash": {"field": "s", "type": "nominal", "legend": null, "scale": {"domain": ["k", "r", "b", "bd", "rd", "p1", "p2"], "range": [[1, 0], [4, 3], [9, 4], [9, 3, 2, 3], [7, 3, 2, 3], [3, 2], [3, 2]]}}}},
{"data": {"name": "blue"}, "mark": {"type": "rule", "color": "#1c1ccf", "strokeWidth": 1.2},
 "encoding": {
  "x": {"field": "x", "type": "quantitative", "scale": {"domain": [25.5, 27], "range": [417, 506], "nice": false, "zero": false},
   "axis": {"orient": "bottom", "offset": -53, "values": [25.6, 25.7, 25.8, 25.9, 26.1, 26.2, 26.3, 26.4, 26.6, 26.7, 26.8, 26.9], "tickSize": -2, "labels": false, "domain": false, "title": null}},
  "y": {"field": "lo", "type": "quantitative", "scale": {"domain": [-14.5, -10.2], "range": [248, 163], "nice": false, "zero": false},
   "axis": {"orient": "left", "offset": -417, "values": [-14.4, -14.2, -13.8, -13.6, -13.4, -13.2, -12.8, -12.6, -12.4, -12.2, -11.8, -11.6, -11.4, -11.2, -10.8, -10.6, -10.4], "tickSize": -2, "labels": false, "domain": false, "title": null}},
  "y2": {"field": "hi"}}},
{"data": {"name": "blue"}, "mark": {"type": "point", "shape": "circle", "filled": true, "color": "#1c1ccf", "size": 60, "opacity": 1},
 "encoding": {
  "x": {"field": "x", "type": "quantitative", "scale": {"domain": [25.5, 27], "range": [417, 506], "nice": false, "zero": false}, "axis": null},
  "y": {"field": "y", "type": "quantitative", "scale": {"domain": [-14.5, -10.2], "range": [248, 163], "nice": false, "zero": false}, "axis": null}}}
]
}
